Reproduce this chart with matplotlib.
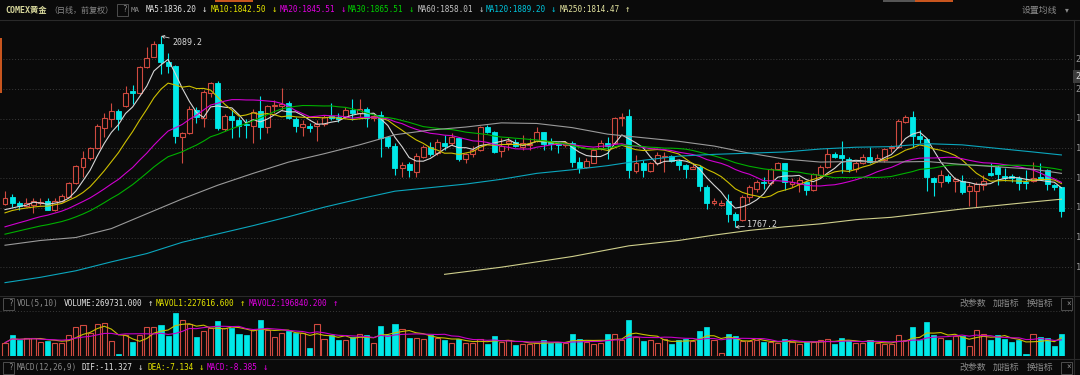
import numpy as np
import pandas as pd
import matplotlib
matplotlib.use("Agg")
from matplotlib import pyplot as plt
from matplotlib.patches import Rectangle

# COMEX gold, daily candles (oldest first)
open_ = [1805.6, 1818.5, 1808.4, 1803.3, 1804.5, 1808.4, 1811.8, 1796.0, 1811.8, 1818.5,
         1841.0, 1869.1, 1883.1, 1900.0, 1934.8, 1948.8, 1963.4, 1971.3, 1996.6, 1992.7,
         2036.5, 2054.5, 2075.8, 2046.0, 2038.7, 1919.6, 1925.2, 1964.6, 1950.5, 1992.7,
         2010.7, 1932.1, 1954.6, 1947.8, 1941.0, 1937.7, 1963.5, 1936.6, 1971.4, 1971.0,
         1977.0, 1949.0, 1936.6, 1937.7, 1937.7, 1941.0, 1955.0, 1953.5, 1953.5, 1964.7,
         1959.0, 1967.0, 1951.0, 1956.0, 1918.7, 1904.0, 1866.5, 1873.2, 1860.8, 1886.0,
         1903.0, 1891.7, 1909.7, 1908.6, 1917.0, 1881.6, 1890.6, 1897.3, 1935.5, 1927.0,
         1896.2, 1908.6, 1911.4, 1903.0, 1905.8, 1913.0, 1927.0, 1911.0, 1908.6, 1905.8,
         1909.7, 1877.7, 1869.3, 1876.0, 1900.1, 1909.7, 1908.6, 1950.6, 1955.1, 1862.5,
         1876.0, 1862.5, 1874.9, 1886.1, 1887.2, 1879.4, 1871.5, 1865.9, 1869.3, 1835.6,
         1808.7, 1804.5, 1811.8, 1790.4, 1779.2, 1818.5, 1832.5, 1843.8, 1841.0, 1864.6,
         1874.7, 1839.8, 1840.0, 1843.8, 1829.7, 1855.0, 1867.9, 1890.4, 1888.7, 1881.4,
         1864.6, 1876.0, 1885.9, 1879.2, 1880.3, 1900.0, 1901.6, 1944.9, 1952.2, 1920.7,
         1915.1, 1849.4, 1843.8, 1853.9, 1845.0, 1845.5, 1828.6, 1828.6, 1838.2, 1858.0,
         1869.1, 1853.3, 1853.3, 1849.4, 1843.8, 1845.5, 1852.2, 1863.4, 1838.2, 1834.2]
high = [1828.0, 1824.0, 1811.8, 1815.7, 1815.7, 1815.7, 1815.7, 1815.7, 1823.0, 1843.8,
        1871.9, 1896.0, 1902.8, 1941.0, 1959.0, 1975.8, 1965.7, 2005.0, 2006.7, 2038.7,
        2070.2, 2081.4, 2089.2, 2060.0, 2039.8, 1928.0, 1971.3, 1970.2, 1998.3, 2012.3,
        2014.0, 1958.0, 1964.7, 1953.5, 1950.0, 1965.8, 1988.2, 1973.1, 1981.5, 2001.0,
        1980.4, 1953.5, 1947.8, 1942.2, 1947.8, 1956.3, 1975.9, 1959.0, 1970.3, 1982.6,
        1982.5, 1970.2, 1960.0, 1963.6, 1921.0, 1908.6, 1877.7, 1877.7, 1891.7, 1906.0,
        1910.0, 1915.3, 1922.6, 1926.5, 1919.8, 1892.8, 1904.0, 1937.7, 1939.4, 1929.9,
        1917.0, 1918.7, 1915.3, 1922.6, 1917.0, 1936.6, 1928.2, 1917.0, 1911.4, 1913.0,
        1913.0, 1885.0, 1883.3, 1900.1, 1914.2, 1918.7, 1953.5, 1959.0, 1965.8, 1888.9,
        1880.5, 1877.7, 1894.5, 1894.5, 1889.0, 1881.6, 1873.8, 1873.8, 1872.1, 1838.4,
        1816.0, 1812.9, 1823.0, 1793.2, 1821.3, 1838.1, 1846.6, 1852.2, 1866.3, 1877.5,
        1875.8, 1849.4, 1852.0, 1845.5, 1859.0, 1871.9, 1899.9, 1894.3, 1912.9, 1884.8,
        1879.2, 1890.0, 1902.8, 1890.4, 1900.0, 1905.6, 1948.8, 1956.1, 1962.9, 1930.9,
        1916.8, 1852.2, 1863.4, 1856.7, 1852.2, 1855.0, 1841.0, 1843.8, 1855.0, 1874.7,
        1871.9, 1866.3, 1856.7, 1853.3, 1863.4, 1877.5, 1874.7, 1864.6, 1839.8, 1835.4]
low = [1804.0, 1801.6, 1796.0, 1801.6, 1791.5, 1804.5, 1796.0, 1794.9, 1810.6, 1817.4,
       1839.9, 1852.2, 1880.3, 1898.8, 1919.6, 1935.4, 1930.9, 1970.2, 1974.7, 1991.5,
       2034.8, 2053.3, 2025.2, 2026.4, 1908.4, 1874.7, 1924.1, 1942.1, 1936.5, 1987.0,
       1931.0, 1929.9, 1917.0, 1919.8, 1918.0, 1908.6, 1915.3, 1925.4, 1959.0, 1964.7,
       1949.0, 1928.2, 1920.9, 1928.2, 1913.0, 1937.7, 1947.8, 1945.0, 1950.6, 1947.8,
       1953.3, 1936.5, 1946.0, 1886.1, 1901.0, 1855.2, 1852.4, 1852.4, 1852.4, 1884.0,
       1888.0, 1888.9, 1897.3, 1905.8, 1879.4, 1876.0, 1886.1, 1896.2, 1925.4, 1891.7,
       1886.1, 1897.3, 1903.0, 1897.3, 1897.3, 1911.4, 1897.3, 1897.3, 1892.8, 1903.0,
       1869.3, 1859.2, 1866.5, 1874.9, 1897.3, 1881.6, 1907.4, 1937.7, 1849.6, 1859.2,
       1852.4, 1860.9, 1872.1, 1860.9, 1877.7, 1863.7, 1849.6, 1864.8, 1828.9, 1797.4,
       1804.8, 1802.8, 1776.4, 1767.2, 1778.1, 1810.1, 1827.0, 1832.5, 1838.2, 1863.4,
       1829.7, 1835.4, 1827.0, 1821.3, 1828.6, 1852.2, 1866.2, 1883.1, 1858.9, 1860.6,
       1860.6, 1873.0, 1874.7, 1877.5, 1877.5, 1894.3, 1899.9, 1942.1, 1902.8, 1908.4,
       1828.6, 1819.6, 1835.4, 1841.0, 1827.0, 1823.0, 1802.8, 1801.6, 1830.8, 1854.0,
       1838.2, 1845.0, 1843.8, 1829.7, 1832.5, 1843.8, 1846.6, 1830.8, 1830.8, 1784.8]
close = [1816.8, 1807.3, 1803.3, 1807.3, 1812.3, 1810.4, 1797.1, 1811.8, 1819.6, 1842.6,
         1870.7, 1883.1, 1900.0, 1937.6, 1950.5, 1963.4, 1948.8, 1993.8, 1992.7, 2037.6,
         2051.6, 2075.8, 2046.0, 2038.7, 1920.7, 1925.2, 1965.7, 1953.3, 1995.5, 2009.5,
         1933.8, 1954.6, 1947.8, 1937.7, 1939.5, 1961.9, 1936.6, 1971.4, 1973.6, 1974.8,
         1950.6, 1937.7, 1940.5, 1933.8, 1941.0, 1953.5, 1952.0, 1950.0, 1964.7, 1960.2,
         1965.7, 1951.0, 1955.0, 1917.0, 1904.0, 1866.5, 1872.1, 1863.7, 1887.2, 1903.0,
         1890.0, 1911.4, 1904.0, 1918.7, 1881.6, 1890.6, 1897.3, 1935.5, 1928.2, 1894.5,
         1904.0, 1913.0, 1904.0, 1908.6, 1907.4, 1927.0, 1907.4, 1907.4, 1905.8, 1909.7,
         1877.7, 1867.6, 1879.4, 1897.3, 1909.7, 1904.0, 1950.6, 1952.3, 1863.7, 1876.0,
         1863.7, 1874.9, 1888.9, 1887.2, 1878.8, 1872.1, 1865.9, 1869.3, 1836.7, 1807.6,
         1811.5, 1808.5, 1790.4, 1779.2, 1818.5, 1834.2, 1843.8, 1841.0, 1864.6, 1874.7,
         1843.8, 1843.8, 1846.0, 1829.7, 1856.7, 1869.1, 1890.4, 1885.9, 1883.1, 1864.6,
         1875.8, 1886.0, 1877.5, 1883.1, 1898.3, 1902.8, 1946.6, 1952.2, 1920.7, 1915.1,
         1851.1, 1843.8, 1855.0, 1845.5, 1849.0, 1826.9, 1836.5, 1839.8, 1845.5, 1855.0,
         1856.7, 1849.4, 1849.4, 1842.1, 1842.1, 1849.4, 1848.8, 1839.8, 1835.4, 1794.9]
# closes before the visible window, guessed from where the short MAs start
pre_close = [1722, 1718, 1726, 1731, 1728, 1735, 1733, 1738, 1736, 1741,
             1738, 1735, 1742, 1739, 1744, 1748, 1745, 1750, 1749, 1755,
             1768, 1779, 1790, 1795, 1798, 1794, 1790, 1797, 1787]
# volume in thousands
volume = [165, 261, 195, 227, 227, 178, 186, 165, 165, 261, 364, 385, 290, 401, 410, 186, 29, 261, 178, 261,
          360, 360, 385, 249, 531, 444, 394, 236, 311, 352, 435, 352, 352, 277, 261, 319, 451, 319, 236, 290,
          311, 290, 290, 96, 401, 208, 261, 195, 195, 236, 277, 261, 165, 369, 261, 394, 332, 227, 227, 208,
          261, 227, 195, 165, 208, 165, 165, 208, 145, 249, 178, 195, 137, 145, 153, 165, 195, 165, 158, 158,
          270, 208, 178, 153, 165, 270, 270, 195, 451, 236, 186, 201, 158, 214, 149, 193, 214, 184, 312, 356,
          193, 42, 278, 244, 184, 184, 193, 172, 172, 158, 214, 172, 149, 172, 172, 201, 214, 149, 227, 193,
          158, 162, 193, 158, 149, 149, 265, 193, 356, 193, 423, 257, 227, 201, 244, 244, 128, 329, 278, 193,
          257, 214, 172, 201, 30, 270, 236, 227, 128, 270]

# long moving averages at a few candles
ma60_at = [0, 5, 10, 15, 20, 25, 30, 35, 40, 45, 50, 55, 60, 65, 70, 75, 80, 85, 90, 95,
           100, 105, 110, 115, 120, 125, 130, 135, 140, 145, 149]
ma60_val = [1737, 1745, 1750, 1765, 1790, 1815, 1838, 1858, 1877, 1891, 1906, 1923, 1931, 1936, 1943, 1942,
            1935, 1924, 1918, 1912, 1904, 1892, 1882, 1877, 1878, 1877, 1878, 1873, 1869, 1865, 1858]
ma120_at = ma60_at
ma120_val = [1674, 1683, 1694, 1709, 1723, 1742, 1756, 1770, 1785, 1801, 1815, 1828, 1834, 1840, 1848, 1858,
             1864, 1871, 1880, 1887, 1890, 1892, 1894, 1899, 1902, 1903, 1908, 1906, 1900, 1894, 1889]
ma250_at = [62, 70, 80, 88, 95, 100, 105, 110, 115, 120, 125, 130, 135, 140, 145, 149]
ma250_val = [1688, 1700, 1718, 1736, 1745, 1754, 1762, 1768, 1773, 1780, 1784, 1791, 1798, 1804, 1810, 1814.5]

price_ticks = [1700, 1750, 1800, 1850, 1900, 1950, 2000, 2050]

BG = "#0a0a0a"
UP = "#d04a40"
DOWN = "#00e8e8"
GRID = "#3a3a3a"
LINE = "#2a2a2a"
MONO = ["DejaVu Sans Mono", "Noto Sans CJK SC"]
CJK = ["Noto Sans CJK SC", "DejaVu Sans"]
W, H = 1080, 375


def fx(px):
    return px / W


def fy(py):
    return 1 - py / H


fig = plt.figure(figsize=(10.8, 3.75), dpi=100, facecolor=BG)


def label(px, py, s, color, size=5.8, family=MONO, ha="left", **kw):
    fig.text(fx(px), fy(py), s, color=color, fontsize=size, family=family,
             ha=ha, va="center", **kw)


def box(px, py, s):
    fig.add_artist(Rectangle((fx(px), fy(py + 6)), 11 / W, 12 / H, transform=fig.transFigure,
                             fill=False, ec="#4e4e4e", lw=0.7))
    label(px + 5.5, py, s, "#8a8a8a", size=5.5)


def hline(py, x0=0, x1=W, color=LINE):
    fig.add_artist(plt.Line2D([fx(x0), fx(x1)], [fy(py), fy(py)], transform=fig.transFigure,
                              color=color, lw=0.8))


n = len(close)
x = np.arange(n)
o = np.array(open_)
c = np.array(close)
up = c >= o

# ---------------- price panel
ax = fig.add_axes([0, fy(295), fx(1073), 275 / H])
ax.set_xlim(-5 / 7.09, 1068 / 7.09)
ax.set_ylim(1653.2, 2116.2)
ax.axis("off")
for p in price_ticks:
    ax.axhline(p, color=GRID, lw=0.7, ls=(0, (1, 2)), zorder=0)

w = 0.7
for i in range(n):
    top, bot = max(o[i], c[i]), min(o[i], c[i])
    if up[i]:
        ax.vlines(i, top, high[i], color=UP, lw=0.8, zorder=2)
        ax.vlines(i, low[i], bot, color=UP, lw=0.8, zorder=2)
        ax.add_patch(Rectangle((i - w / 2, bot), w, max(top - bot, 0.3), facecolor=BG,
                               edgecolor=UP, lw=0.8, zorder=3))
    else:
        ax.vlines(i, low[i], high[i], color=DOWN, lw=0.8, zorder=2)
        ax.add_patch(Rectangle((i - w / 2, bot), w, max(top - bot, 0.6), facecolor=DOWN,
                               edgecolor=DOWN, lw=0.6, zorder=3))

full = pd.Series(pre_close + close)
short_ma = [(5, "#d6d6d6"), (10, "#cdbf00"), (20, "#d000d0"), (30, "#00b000")]
for win, col in short_ma:
    ma = full.rolling(win).mean().to_numpy()[-n:]
    ax.plot(x, ma, color=col, lw=0.8, zorder=4)
ax.plot(ma60_at, ma60_val, color="#9a9a9a", lw=0.8, zorder=4)
ax.plot(ma120_at, ma120_val, color="#0aa6bd", lw=0.8, zorder=4)
ax.plot(ma250_at, ma250_val, color="#cfcf8c", lw=0.8, zorder=4)

hi = int(np.argmax(high))
lo = int(np.argmin(low))
for idx, val, off in [(hi, high[hi], (11, -6)), (lo, low[lo], (12, 3))]:
    ax.annotate(f"{val:.1f}", xy=(idx, val), xytext=off, textcoords="offset pixels",
                color="#d8d8d8", fontsize=6, family=MONO, ha="left", va="center",
                arrowprops=dict(arrowstyle="->", color="#d8d8d8", lw=0.6,
                                shrinkA=0, shrinkB=0, mutation_scale=5),
                annotation_clip=False, zorder=6)

# ---------------- volume panel
vax = fig.add_axes([0, fy(356), fx(1073), 60 / H])
vax.set_xlim(-5 / 7.09, 1068 / 7.09)
vax.set_ylim(0, 60 * 12.43)
vax.axis("off")
vax.axhline(560, color=GRID, lw=0.7, ls=(0, (1, 2)), zorder=0)
v = np.array(volume)
vax.bar(x[up], v[up], width=0.72, facecolor=BG, edgecolor=UP, lw=0.8, zorder=2)
vax.bar(x[~up], v[~up], width=0.72, facecolor=DOWN, edgecolor=DOWN, lw=0.5, zorder=2)
vs = pd.Series(volume)
vax.plot(x, vs.rolling(5, min_periods=1).mean(), color="#c8c000", lw=0.8, zorder=3)
vax.plot(x, vs.rolling(10, min_periods=1).mean(), color="#c800c8", lw=0.8, zorder=3)

# ---------------- frame lines
hline(20)
hline(295.5)
hline(359)
fig.add_artist(plt.Line2D([fx(1073.5)] * 2, [fy(20), fy(375)], transform=fig.transFigure,
                          color=LINE, lw=0.8))
fig.add_artist(Rectangle((0, fy(93)), 1.6 / W, 55 / H, transform=fig.transFigure,
                         color="#c8551e", lw=0))
fig.add_artist(Rectangle((fx(215), fy(1.5)), 38 / W, 1.5 / H, transform=fig.transFigure,
                         color="#c8551e", lw=0))
fig.add_artist(Rectangle((fx(883), fy(1.5)), 32 / W, 1.5 / H, transform=fig.transFigure,
                         color="#555555", lw=0))
fig.add_artist(Rectangle((fx(915), fy(1.5)), 38 / W, 1.5 / H, transform=fig.transFigure,
                         color="#c8551e", lw=0))

# right axis labels: only their first digit is visible in the screenshot
for p in price_ticks:
    py = 59.3 + (2050 - p) / 50 * 29.7
    label(1075.5, py, f"{p:.0f}"[0], "#9a9a9a", size=6.2)
label(1075, 76.7, "2", "#dddddd", size=6.2,
      bbox=dict(boxstyle="square,pad=0.2", fc="#3c3c3c", ec="none"))

# ---------------- header texts
label(5, 10, "COMEX黄金", "#d8d89c", size=6, weight="bold")
label(49, 10, "（日线，前复权）", "#8a8a8a", size=5.8, family=CJK)
box(117, 10, "?")
label(131, 10, "MA", "#8a8a8a", size=5.4)
ma_items = [(146, "MA5:1836.20", "↓", "#e4e4e4"), (211, "MA10:1842.50", "↓", "#e6e600"),
            (280, "MA20:1845.51", "↓", "#e000e0"), (348, "MA30:1865.51", "↓", "#00d000"),
            (418, "MA60:1858.01", "↓", "#c4c4c4"), (486, "MA120:1889.20", "↓", "#00c4dc"),
            (560, "MA250:1814.47", "↑", "#e4e4a0")]
for px, s, arr, col in ma_items:
    label(px, 10, s, col, size=5.6)
    label(px + len(s) * 4.7 + 4, 10, arr, col, size=6.5)
label(1022, 10, "设置均线", "#8a8a8a", size=6.4, family=CJK)
label(1065, 10, "▾", "#8a8a8a", size=5.5, family=CJK)

vy, my = 303.8, 367.5
box(3, vy, "?")
label(17, vy, "VOL(5,10)", "#8a8a8a", size=5.6)
sub_items = [(64, "VOLUME:269731.000", "↑", "#e4e4e4"), (156, "MAVOL1:227616.600", "↑", "#e6e600"),
             (249, "MAVOL2:196840.200", "↑", "#e000e0")]
for px, s, arr, col in sub_items:
    label(px, vy, s, col, size=5.6)
    label(px + len(s) * 4.7 + 4, vy, arr, col, size=6.5)

box(3, my, "?")
label(17, my, "MACD(12,26,9)", "#8a8a8a", size=5.6)
macd_items = [(82, "DIF:-11.327", "↓", "#e4e4e4"), (148, "DEA:-7.134", "↓", "#e6e600"),
              (207, "MACD:-8.385", "↓", "#e000e0")]
for px, s, arr, col in macd_items:
    label(px, my, s, col, size=5.6)
    label(px + len(s) * 4.7 + 4, my, arr, col, size=6.5)

for py in (vy, my):
    label(959, py, "改参数", "#8a8a8a", size=6.4, family=CJK)
    label(993, py, "加指标", "#8a8a8a", size=6.4, family=CJK)
    label(1027, py, "换指标", "#8a8a8a", size=6.4, family=CJK)
    box(1061, py, "×")

fig.savefig("out.png", dpi=100, facecolor=BG)
